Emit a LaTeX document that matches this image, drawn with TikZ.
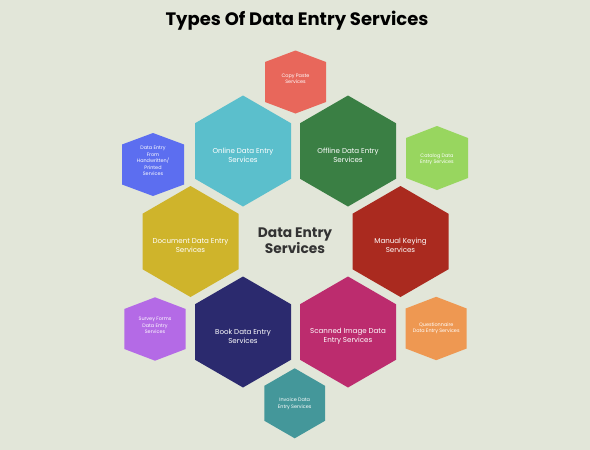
\documentclass[tikz,border=0pt]{standalone}
\usepackage{fontspec}
\setmainfont{Poppins}
\definecolor{bgc}{HTML}{E2E6D9}
\definecolor{cpaste}{HTML}{E8675B}
\definecolor{conline}{HTML}{5BBFCC}
\definecolor{coffline}{HTML}{3A7F44}
\definecolor{chand}{HTML}{5C6EF0}
\definecolor{ccatalog}{HTML}{98D65F}
\definecolor{cdoc}{HTML}{CFB42B}
\definecolor{cmanual}{HTML}{AA2A1F}
\definecolor{csurvey}{HTML}{B46AE6}
\definecolor{cbook}{HTML}{2B2A6E}
\definecolor{cscan}{HTML}{BC2C6E}
\definecolor{cquest}{HTML}{EE9852}
\definecolor{cinvoice}{HTML}{44979A}
\definecolor{ctext}{HTML}{333333}
% hexagon: x, y, half-width, half-height, half side, colour
\newcommand\hexat[6]{\fill[#6] (#1,#2-#4) -- (#1+#3,#2-#5) -- (#1+#3,#2+#5) -- (#1,#2+#4) -- (#1-#3,#2+#5) -- (#1-#3,#2-#5) -- cycle;}
\begin{document}
\begin{tikzpicture}[x=1pt,y=-1pt,
  biglbl/.style={text=white,align=center,font=\fontsize{7.1}{9}\selectfont,inner sep=0pt},
  smalllbl/.style={text=white,align=center,font=\fontsize{4.9}{6.6}\selectfont,inner sep=0pt},
  centerlbl/.style={text=ctext,align=center,font=\fontsize{13.8}{15.5}\selectfont\bfseries,inner sep=0pt},
  titlelbl/.style={text=black,font=\fontsize{18}{20}\selectfont\bfseries,inner sep=0pt}]
\fill[bgc] (0,0) rectangle (590,450);
\useasboundingbox (0,0) rectangle (590,450);
\node[titlelbl] (title) at (297,21) {Types Of Data Entry Services};
% big hexagons
\hexat{243}{151}{48}{55.5}{27.75}{conline}
\hexat{348}{151}{48}{55.5}{27.75}{coffline}
\hexat{190.5}{241.5}{48}{55.5}{27.75}{cdoc}
\hexat{400.5}{241.5}{48}{55.5}{27.75}{cmanual}
\hexat{243}{332}{48}{55.5}{27.75}{cbook}
\hexat{348}{332}{48}{55.5}{27.75}{cscan}
% small hexagons
\hexat{295.5}{82}{30.5}{31.5}{20}{cpaste}
\hexat{153}{164.5}{31}{31.5}{20}{chand}
\hexat{437}{158}{31}{32}{20}{ccatalog}
\hexat{155}{329}{30.7}{31.7}{20}{csurvey}
\hexat{436.2}{328.5}{30.5}{31.7}{20}{cquest}
\hexat{294.7}{403.3}{30.3}{35}{17.5}{cinvoice}
% labels
\node[centerlbl] (center) at (295,240.5) {Data Entry\\Services};
\node[biglbl] (online) at (243,155.5) {Online Data Entry\\Services};
\node[biglbl] (offline) at (348,155.5) {Offline Data Entry\\Services};
\node[biglbl] (document) at (190.5,245.5) {Document Data Entry\\Services};
\node[biglbl] (manual) at (400.5,245.5) {Manual Keying\\Services};
\node[biglbl] (book) at (243,336) {Book Data Entry\\Services};
\node[biglbl] (scanned) at (348,336) {Scanned Image Data\\Entry Services};
\node[smalllbl] (copy) at (295.5,78.7) {Copy Paste\\Services};
\node[smalllbl] (hand) at (153,161) {Data Entry\\From\\Handwritten/\\Printed\\Services};
\node[smalllbl] (catalog) at (437,159.5) {Catalog Data\\Entry Services};
\node[smalllbl] (survey) at (155,325.5) {Survey Forms\\Data Entry\\Services};
\node[smalllbl] (quest) at (436.2,328.3) {Questionnaire\\Data Entry Services};
\node[smalllbl] (invoice) at (294.7,404) {Invoice Data\\Entry Services};
\end{tikzpicture}
\end{document}
